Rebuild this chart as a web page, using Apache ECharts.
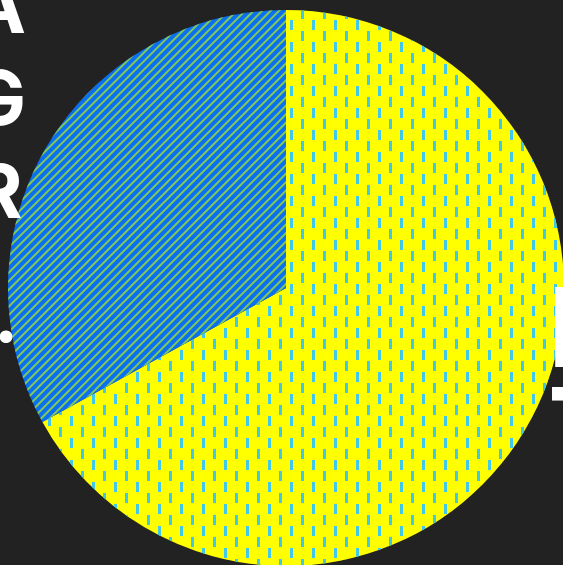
<!DOCTYPE html>
<html>
<head>
<meta charset="utf-8">
<script src="https://cdn.jsdelivr.net/npm/echarts@6/dist/echarts.min.js"></script>
<style>
  html, body { margin: 0; padding: 0; background: #222222; }
  #chart { width: 563px; height: 565px; }
</style>
</head>
<body>
<div id="chart"></div>
<script>
// Data
const categories = ['IT', 'AGR.'];
const values = [67, 33];
const colors = ['#ffff00', '#0a6ff0'];

const chart = echarts.init(document.getElementById('chart'), null, { renderer: 'canvas' });

const decals = [
  {
    symbol: 'rect', symbolSize: 1, color: '#40c8e8',
    dashArrayX: [[0, 4, 3, 15], [0, 15, 3, 4], [0, 4, 3, 15]],
    dashArrayY: [8, 1, 10, 1, 2, 0]
  },
  {
    symbol: 'rect', symbolSize: 1, color: '#80c858',
    dashArrayX: [1, 0], dashArrayY: [2, 4], rotation: -Math.PI / 4
  }
];
const labelPos = [
  { x: 548, y: 284, align: 'left' },
  { x: -2, y: -36, align: 'center' }
];

chart.setOption({
  backgroundColor: '#222222',
  animation: false,
  series: [{
    type: 'pie',
    center: [286, 288],
    radius: 278,
    startAngle: 90,
    clockwise: true,
    labelLine: { show: false },
    label: {
      show: true,
      position: 'outside',
      color: '#ffffff',
      fontFamily: 'Inter',
      fontWeight: 'bold',
      width: 200,
      overflow: 'none',
      formatter: function (p) {
        const chars = p.name.split('');
        return chars.map(function (c, i) {
          const key = p.dataIndex === 0 ? 'r' : (i === chars.length - 1 ? 'd' : 'l');
          return '{' + key + '|' + c + '}';
        }).join('\n');
      },
      rich: {
        r: { fontSize: 110, lineHeight: 100, color: '#ffffff', fontFamily: 'Inter', fontWeight: 'bold' },
        l: { fontSize: 75, lineHeight: 92.5, color: '#ffffff', fontFamily: 'Inter', fontWeight: 'bold' },
        d: { fontSize: 75, lineHeight: 155, color: '#ffffff', fontFamily: 'Inter', fontWeight: 'bold', padding: [0, 0, 0, 16] }
      }
    },
    labelLayout: function (params) {
      const p = labelPos[params.dataIndex];
      return { x: p.x, y: p.y, align: p.align, verticalAlign: 'top' };
    },
    data: categories.map(function (name, i) {
      return {
        name: name,
        value: values[i],
        itemStyle: { color: colors[i], decal: decals[i] },
        label: { align: labelPos[i].align }
      };
    })
  }]
});
</script>
</body>
</html>
